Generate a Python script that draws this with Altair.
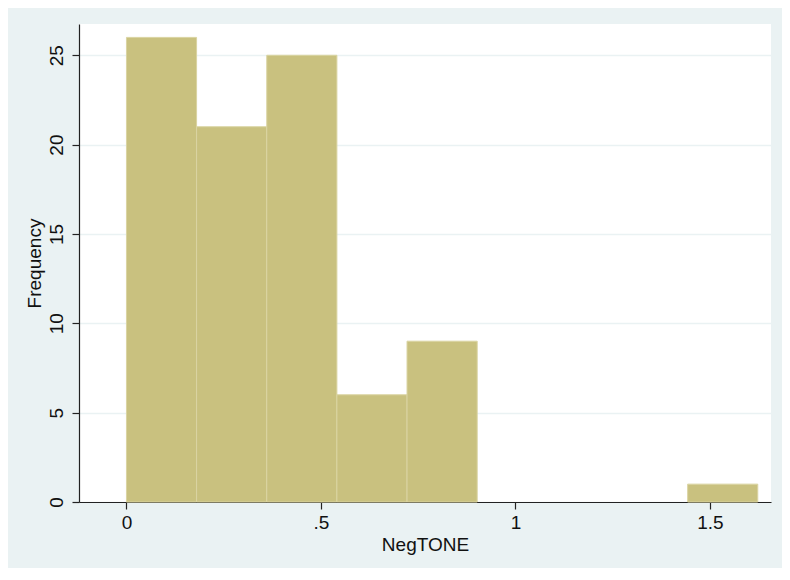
import altair as alt
import pandas as pd

bin_start = [0.0, 0.1803, 0.3607, 0.5410, 0.7213, 0.9017, 1.0820, 1.2623, 1.4427]
bin_end = [0.1803, 0.3607, 0.5410, 0.7213, 0.9017, 1.0820, 1.2623, 1.4427, 1.6230]
counts = [26, 21, 25, 6, 9, 0, 0, 0, 1]

x_ticks = [0, 0.5, 1, 1.5]
y_ticks = [0, 5, 10, 15, 20, 25]

df = pd.DataFrame({"start": bin_start, "end": bin_end, "count": counts})

FONT = "Liberation Sans"
BG = "#EAF2F3"

bars = (
    alt.Chart(df)
    .transform_filter("datum.count > 0")
    .mark_rect(fill="#C9C17F", stroke="#DAD4A2", strokeWidth=1)
    .encode(
        x=alt.X(
            "start:Q",
            scale=alt.Scale(domain=[-0.122, 1.657], nice=False, zero=False),
            axis=alt.Axis(
                values=x_ticks,
                labelExpr="datum.value == 0 ? '0' : (datum.value < 1 ? replace(format(datum.value, '.1f'), '0.', '.') : format(datum.value, '~g'))",
                title="NegTONE",
                grid=False,
                tickSize=7,
                labelPadding=4,
                titlePadding=3,
            ),
        ),
        x2="end:Q",
        y=alt.Y(
            "count:Q",
            scale=alt.Scale(domain=[0, 26.75], nice=False),
            axis=alt.Axis(
                values=y_ticks,
                title="Frequency",
                labelAngle=-90,
                labelAlign="center",
                labelBaseline="bottom",
                labelPadding=6,
                tickSize=7,
                grid=True,
                gridColor=BG,
                gridWidth=1.5,
                titlePadding=3,
            ),
        ),
        y2=alt.datum(0),
    )
)

chart = (
    bars.properties(
        width=692,
        height=478,
        background=BG,
        padding={"left": 71, "top": 16, "right": 11, "bottom": 66},
        autosize=alt.AutoSizeParams(type="none"),
    )
    .configure_view(fill="white", stroke=None)
    .configure_axis(
        labelFont=FONT,
        titleFont=FONT,
        labelFontSize=19,
        titleFontSize=19,
        titleFontWeight="normal",
        labelColor="#111111",
        titleColor="#111111",
        domainColor="#222222",
        tickColor="#222222",
        domainWidth=1.2,
        tickWidth=1.2,
    )
)

chart.save("out.html", embed_options={"renderer": "svg", "actions": False})
